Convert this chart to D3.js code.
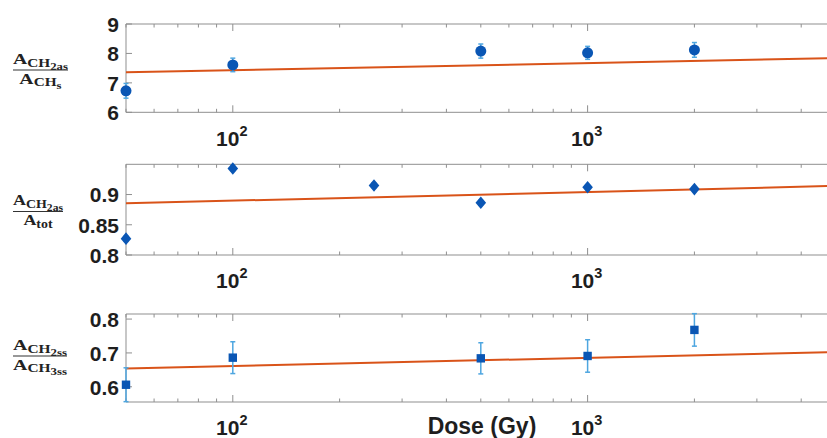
<!DOCTYPE html>
<html><head><meta charset="utf-8">
<script src="https://cdn.jsdelivr.net/npm/d3@7"></script>
<style>html,body{margin:0;padding:0;background:#fff;overflow:hidden}</style>
</head><body>
<svg id="c" width="827" height="438"></svg>
<script>
// ---- data ----
const dosesTop = [50, 100, 500, 1000, 2000];
const ratioTop = [6.73, 7.61, 8.08, 8.02, 8.12];
const errTop   = [0.25, 0.23, 0.24, 0.22, 0.25];

const dosesMid = [50, 100, 250, 500, 1000, 2000];
const ratioMid = [0.827, 0.943, 0.915, 0.8865, 0.912, 0.909];
const errMid   = [0.004, 0.004, 0.004, 0.004, 0.004, 0.004];

const dosesBot = [50, 100, 500, 1000, 2000];
const ratioBot = [0.606, 0.686, 0.684, 0.691, 0.768];
const errBot   = [0.050, 0.047, 0.046, 0.048, 0.048];

const fitDose = [50, 5000];
const fitTop = [7.36, 7.84];
const fitMid = [0.8855, 0.9143];
const fitBot = [0.654, 0.7026];

const xDomain = [50, 5000];
const yTicksTop = [6, 7, 8, 9];
const yTicksMid = [0.8, 0.85, 0.9];
const yTicksBot = [0.6, 0.7, 0.8];
const xMajor = [100, 1000];
const xMajorLabels = [["10", "2"], ["10", "3"]];
const xLabel = "Dose (Gy)";

// ---- drawing ----
const svg = d3.select("#c");
const x = d3.scaleLog().domain(xDomain).range([126, 835.6]);
const axisCol = "#8f8f8f";
const markCol = "#0a56b4";
const errCol = "#4ea6e0";
const fitCol = "#d95319";
const tickFont = "'Liberation Sans', Arial, sans-serif";

const minor = [];
[10, 100, 1000].forEach(d => { for (let k = 2; k <= 9; k++) { const v = d * k; if (v >= 50 && v <= 5000 && v !== 100 && v !== 1000) minor.push(v); } });

const panels = [
  {doses: dosesTop, vals: ratioTop, err: errTop, fit: fitTop, ydom: [6, 9], yr: [112.3, 24], ticks: yTicksTop, fmt: d => d3.format("d")(d), marker: "circle",
   num: [["A", 0], ["CH", 1], ["2as", 2]], den: [["A", 0], ["CH", 1], ["s", 2]], lineY: 70, w: 55},
  {doses: dosesMid, vals: ratioMid, err: errMid, fit: fitMid, ydom: [0.8, 0.95], yr: [255, 164.3], ticks: yTicksMid, fmt: d => String(d), marker: "diamond",
   num: [["A", 0], ["CH", 1], ["2as", 2]], den: [["A", 0], ["tot", 1]], lineY: 211.5, w: 50},
  {doses: dosesBot, vals: ratioBot, err: errBot, fit: fitBot, ydom: [0.555, 0.815], yr: [402, 314], ticks: yTicksBot, fmt: d => String(d), marker: "square",
   num: [["A", 0], ["CH", 1], ["2ss", 2]], den: [["A", 0], ["CH", 1], ["3ss", 2]], lineY: 356, w: 54}
];

panels.forEach(p => {
  const y = d3.scaleLinear().domain(p.ydom).range(p.yr);
  const g = svg.append("g");
  const top = p.yr[1], bot = p.yr[0];
  // box
  g.append("line").attr("x1", 126).attr("x2", 835.6).attr("y1", top).attr("y2", top).attr("stroke", axisCol);
  g.append("line").attr("x1", 126).attr("x2", 835.6).attr("y1", bot).attr("y2", bot).attr("stroke", axisCol);
  g.append("line").attr("x1", 126).attr("x2", 126).attr("y1", top).attr("y2", bot).attr("stroke", axisCol);
  // x ticks (inside, top and bottom)
  minor.forEach(v => {
    g.append("line").attr("x1", x(v)).attr("x2", x(v)).attr("y1", bot).attr("y2", bot - 3.5).attr("stroke", axisCol);
    g.append("line").attr("x1", x(v)).attr("x2", x(v)).attr("y1", top).attr("y2", top + 3.5).attr("stroke", axisCol);
  });
  xMajor.forEach((v, i) => {
    g.append("line").attr("x1", x(v)).attr("x2", x(v)).attr("y1", bot).attr("y2", bot - 7).attr("stroke", axisCol);
    g.append("line").attr("x1", x(v)).attr("x2", x(v)).attr("y1", top).attr("y2", top + 7).attr("stroke", axisCol);
    const t = g.append("text").attr("x", x(v) - 1).attr("y", bot + 33.4).attr("text-anchor", "middle")
      .attr("font-family", tickFont).attr("font-weight", "bold").attr("font-size", 21).attr("fill", "#1e1e1e");
    t.append("tspan").text(xMajorLabels[i][0]);
    t.append("tspan").attr("font-size", 14.5).attr("dy", -10).text(xMajorLabels[i][1]);
  });
  // y ticks
  p.ticks.forEach(v => {
    g.append("line").attr("x1", 126).attr("x2", 132).attr("y1", y(v)).attr("y2", y(v)).attr("stroke", axisCol);
    g.append("text").attr("x", 119).attr("y", y(v) + 7.8).attr("text-anchor", "end")
      .attr("font-family", tickFont).attr("font-weight", "bold").attr("font-size", 21).attr("fill", "#1e1e1e").text(p.fmt(v));
  });
  // fit line
  const line = d3.line().x(d => x(d[0])).y(d => y(d[1]));
  g.append("path").datum(fitDose.map((d, i) => [d, p.fit[i]])).attr("d", line)
    .attr("fill", "none").attr("stroke", fitCol).attr("stroke-width", 2);
  // error bars
  p.doses.forEach((d, i) => {
    const cx = x(d), y1 = y(p.vals[i] + p.err[i]), y2 = y(p.vals[i] - p.err[i]);
    g.append("line").attr("x1", cx).attr("x2", cx).attr("y1", y1).attr("y2", y2).attr("stroke", errCol).attr("stroke-width", 1.5);
    [y1, y2].forEach(yy => g.append("line").attr("x1", cx - 2.5).attr("x2", cx + 2.5).attr("y1", yy).attr("y2", yy).attr("stroke", errCol).attr("stroke-width", 1.5));
  });
  // markers
  p.doses.forEach((d, i) => {
    const cx = x(d), cy = y(p.vals[i]);
    if (p.marker === "circle") g.append("circle").attr("cx", cx).attr("cy", cy).attr("r", 5.5).attr("fill", markCol);
    else if (p.marker === "diamond") g.append("path").attr("d", `M${cx},${cy - 6.3}L${cx + 5.3},${cy}L${cx},${cy + 6.3}L${cx - 5.3},${cy}Z`).attr("fill", markCol);
    else g.append("rect").attr("x", cx - 4.2).attr("y", cy - 4.2).attr("width", 8.4).attr("height", 8.4).attr("fill", markCol);
  });
  // y label fraction
  const fg = svg.append("g");
  const inner = fg.append("g");
  const sizes = [15.5, 12, 10], shifts = [0, 3, 6];
  function mk(parts, baseY) {
    const t = inner.append("text").attr("x", 0).attr("y", baseY).attr("font-family", "'Liberation Serif', 'DejaVu Serif', serif")
      .attr("font-weight", "bold").attr("fill", "#222");
    let prev = 0;
    parts.forEach(([s, lvl]) => {
      t.append("tspan").attr("font-size", sizes[lvl]).attr("dy", shifts[lvl] - prev).text(s);
      prev = shifts[lvl];
    });
    return t;
  }
  const n = mk(p.num, -6.5);
  const dn = mk(p.den, 13.5);
  const nw = n.node().getComputedTextLength(), dw = dn.node().getComputedTextLength();
  const W = Math.max(nw, dw);
  n.attr("x", (W - nw) / 2); dn.attr("x", (W - dw) / 2);
  inner.append("line").attr("x1", 0).attr("x2", W).attr("y1", 0).attr("y2", 0).attr("stroke", "#333").attr("stroke-width", 1);
  const sx = p.w / W;
  fg.attr("transform", `translate(13,${p.lineY}) scale(${sx},1)`);
});

svg.append("text").attr("x", 482).attr("y", 434).attr("text-anchor", "middle")
  .attr("font-family", tickFont).attr("font-weight", "bold").attr("font-size", 23).attr("fill", "#1e1e1e").text(xLabel);
</script>
</body></html>
